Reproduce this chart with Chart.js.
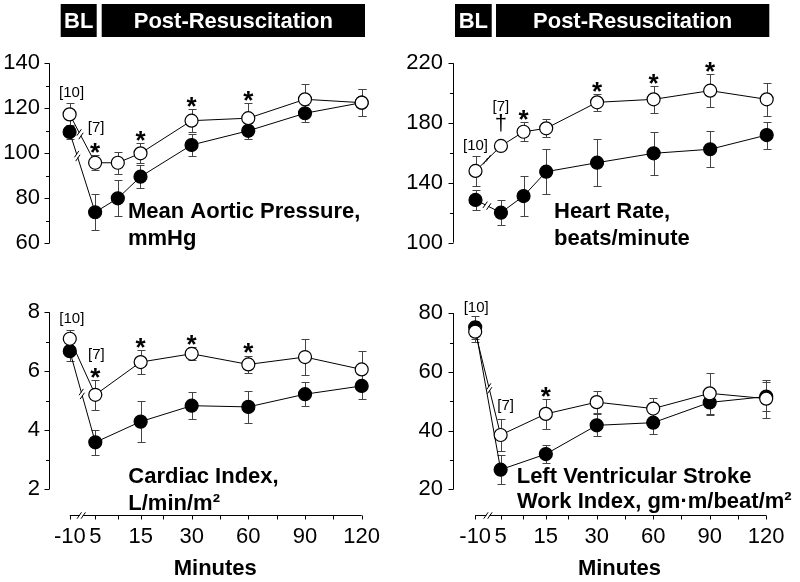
<!DOCTYPE html>
<html>
<head>
<meta charset="utf-8">
<script src="https://cdn.jsdelivr.net/npm/chart.js@4.4.1/dist/chart.umd.min.js"></script>
<style>
  body { margin: 0; background: #fff; width: 800px; height: 582px; overflow: hidden; position: relative; }
  canvas { position: absolute; }
</style>
</head>
<body>
<canvas id="map" width="400" height="290" style="left:0;top:0"></canvas>
<canvas id="hr" width="400" height="290" style="left:400px;top:0"></canvas>
<canvas id="ci" width="400" height="292" style="left:0;top:290px"></canvas>
<canvas id="lv" width="400" height="292" style="left:400px;top:290px"></canvas>
<script>
// ==========================
// DATA
// ==========================
const minutes = [-10, 5, 10, 15, 30, 60, 90, 120];
// where each time point sits on the (broken, stretched) x axis
const axisPos = [0, 0.9, 1.7, 2.5, 4.3, 6.3, 8.3, 10.3];
const xTickPos = [0, 0.9, 1.7, 2.5, 3.3, 4.3, 5.3, 6.3, 7.3, 8.3, 9.3, 10.3];
const xTickLabels = ['-10', '5', '', '15', '', '30', '', '60', '', '90', '', '120'];

// Mean aortic pressure, mmHg
const mapOpen = [117.3, 95.8, 95.8, 100, 114.5, 115.6, 124, 122.5];
const mapOpenErr = [5, 3.3, 5, 4.4, 5, 6.7, 6.7, 6];
const mapFilled = [109.5, 73.8, 80, 89.6, 103.7, 110, 117.8, 122.5];
const mapFilledErr = [3, 8, 8, 5, 5, 3.6, 3.8, 6];

// Heart rate, beats/minute
const hrOpen = [148, 164.7, 174.2, 176.5, 193.9, 195.9, 201.7, 195.9];
const hrOpenErr = [10, 3, 6.5, 6, 5.5, 9, 11, 11];
const hrFilled = [128.6, 120.1, 131.2, 147.5, 153.5, 159.8, 162.5, 172];
const hrFilledErr = [6.7, 8.5, 13.6, 15, 15.7, 14.5, 12, 9];

// Cardiac index, L/min/m2 (no 10 min point)
const ciOpen = [7.1, 5.2, null, 6.31, 6.59, 6.23, 6.48, 6.06];
const ciOpenErr = [0.31, 0.5, null, 0.4, 0.22, 0.3, 0.6, 0.64];
const ciFilled = [6.68, 3.59, null, 4.29, 4.83, 4.79, 5.22, 5.5];
const ciFilledErr = [0.32, 0.42, null, 0.7, 0.45, 0.54, 0.4, 0.45];

// LV stroke work index
const lvOpen = [73.7, 38.5, null, 45.7, 49.7, 47.5, 52.7, 50.9];
const lvOpenErr = [3.5, 5.6, null, 5, 3.8, 3.6, 7, 6.5];
const lvFilled = [75.2, 26.7, null, 32, 41.8, 42.7, 49.6, 51.6];
const lvFilledErr = [4, 5, null, 3.2, 3.8, 3.7, 4.4, 5];

// significance marks (index into minutes)
const mapStars = [1, 3, 4, 5];
const hrStars = [2, 4, 5, 6];
const ciStars = [1, 3, 4, 5];
const lvStars = [3];

// ==========================
// DRAWING HELPERS
// ==========================
const FONT = '"Liberation Sans", Arial, Helvetica, sans-serif';
Chart.defaults.font.family = FONT;
Chart.defaults.color = '#000';

function breakMark(ctx, px, py, dx, dy) {
  const len = Math.hypot(dx, dy);
  const ux = dx / len, uy = dy / len;
  ctx.save();
  ctx.strokeStyle = '#fff';
  ctx.lineWidth = 3;
  ctx.beginPath();
  ctx.moveTo(px - ux * 1.6, py - uy * 1.6);
  ctx.lineTo(px + ux * 1.6, py + uy * 1.6);
  ctx.stroke();
  ctx.strokeStyle = '#000';
  ctx.lineWidth = 1;
  ctx.beginPath();
  [-1, 1].forEach(k => {
    const cx = px + k * 2 * ux, cy = py + k * 2 * uy;
    ctx.moveTo(cx - 2.2, cy + 3.2);
    ctx.lineTo(cx + 2.2, cy - 3.2);
  });
  ctx.stroke();
  ctx.restore();
}

const decoPlugin = {
  id: 'deco',
  beforeDatasetsDraw(chart, args, o) {
    const { ctx, scales: { x, y } } = chart;
    ctx.save();
    ctx.strokeStyle = '#000';
    ctx.lineWidth = 1;

    // y axis line and ticks
    const ax = Math.round(chart.chartArea.left) + 0.5;
    ctx.beginPath();
    ctx.moveTo(ax, y.getPixelForValue(o.yLo));
    ctx.lineTo(ax, y.getPixelForValue(o.yHi));
    for (let v = o.yLo; v <= o.yHi + 1e-9; v += o.minor) {
      const py = Math.round(y.getPixelForValue(v)) + 0.5;
      const major = Math.abs(((v - o.yLo) / o.major) - Math.round((v - o.yLo) / o.major)) < 1e-6;
      ctx.moveTo(ax - (major ? 5 : 3.5), py);
      ctx.lineTo(ax, py);
    }
    ctx.stroke();

    // floating x axis
    if (o.xAxis) {
      const by = Math.round(chart.chartArea.bottom) + 0.5;
      ctx.beginPath();
      ctx.moveTo(x.getPixelForValue(xTickPos[0]), by);
      ctx.lineTo(x.getPixelForValue(xTickPos[xTickPos.length - 1]), by);
      xTickPos.forEach(p => {
        const px = Math.round(x.getPixelForValue(p)) + 0.5;
        ctx.moveTo(px, by);
        ctx.lineTo(px, by + 4);
      });
      ctx.stroke();
      const bx = x.getPixelForValue(axisPos[0] + o.xBreak * (axisPos[1] - axisPos[0]));
      breakMark(ctx, bx, by, 1, 0);
    }

    // error bars
    ctx.strokeStyle = '#444';
    ctx.beginPath();
    chart.data.datasets.forEach(ds => {
      ds.values.forEach((v, i) => {
        const e = ds.err[i];
        if (v == null || !e) return;
        const px = Math.round(x.getPixelForValue(axisPos[i])) + 0.5;
        const t = Math.round(y.getPixelForValue(v + e)) + 0.5;
        const b = Math.round(y.getPixelForValue(v - e)) + 0.5;
        ctx.moveTo(px, t); ctx.lineTo(px, b);
        ctx.moveTo(px - 4, t); ctx.lineTo(px + 4, t);
        ctx.moveTo(px - 4, b); ctx.lineTo(px + 4, b);
      });
    });
    ctx.stroke();
    ctx.restore();
  },
  afterDatasetsDraw(chart, args, o) {
    const { ctx, scales: { x, y } } = chart;
    ctx.save();

    // broken line segments between baseline and 5 min
    o.breaks.forEach(b => {
      const pts = chart.getDatasetMeta(b.ds).data;
      const p0 = pts[0], p1 = pts[1];
      breakMark(ctx, p0.x + b.t * (p1.x - p0.x), p0.y + b.t * (p1.y - p0.y), p1.x - p0.x, p1.y - p0.y);
    });

    // asterisks above the open-circle error bars
    const open = chart.data.datasets[0];
    ctx.fillStyle = '#000';
    ctx.textAlign = 'center';
    ctx.textBaseline = 'alphabetic';
    ctx.font = 'bold 26px ' + FONT;
    o.stars.forEach(i => {
      const cy = y.getPixelForValue(open.values[i] + open.err[i]) - 9;
      ctx.fillText('*', x.getPixelForValue(axisPos[i]), cy + 0.57 * 26);
    });

    // n counts and other notes
    ctx.textBaseline = 'middle';
    o.notes.forEach(n => {
      const ds = chart.data.datasets[n.ds];
      const cy = y.getPixelForValue(ds.values[n.i] + ds.err[n.i]) + n.dy;
      ctx.font = (n.size || 15) + 'px ' + FONT;
      ctx.fillText(n.text, x.getPixelForValue(axisPos[n.i]) + (n.dx || 0), cy);
    });

    // panel title
    ctx.textAlign = 'left';
    ctx.textBaseline = 'alphabetic';
    ctx.font = 'bold 22px ' + FONT;
    o.title.forEach(([txt, tx, ty]) => ctx.fillText(txt, tx, ty));

    // BL / Post-Resuscitation header
    if (o.header) {
      ctx.textAlign = 'center';
      ctx.textBaseline = 'middle';
      [['BL', o.header.bl], ['Post-Resuscitation', o.header.post]].forEach(([txt, [x0, x1]]) => {
        ctx.fillStyle = '#000';
        ctx.fillRect(x0, 4, x1 - x0, 33);
        ctx.fillStyle = '#fff';
        ctx.fillText(txt, (x0 + x1) / 2, 21.5);
      });
    }
    ctx.restore();
  }
};

// ==========================
// BUILD ONE PANEL
// ==========================
function buildPanel(p) {
  const canvas = document.getElementById(p.id);
  const H = canvas.height;
  const chartBottom = p.xAxisY || p.yBottom;
  const span = p.yHi - p.yLo;
  const yMin = p.yLo - (chartBottom - p.yBottom) / (p.yBottom - p.yTop) * span;
  const unit = (p.lastX - p.firstX) / axisPos[axisPos.length - 1];
  const xMin = -(p.firstX - p.axisLeft) / unit;
  const xMax = 11;
  const rightEdge = p.firstX + xMax * unit;

  const series = (vals, err, fill) => ({
    data: vals.map((v, i) => ({ x: axisPos[i], y: v })),
    values: vals,
    err: err,
    borderColor: '#000',
    borderWidth: 1,
    pointRadius: 6.5,
    pointBorderWidth: 1.2,
    pointBorderColor: '#000',
    pointBackgroundColor: fill,
    spanGaps: true,
    tension: 0,
    clip: false
  });

  return new Chart(canvas, {
    type: 'line',
    data: {
      datasets: [
        series(p.open, p.openErr, '#fff'),
        series(p.filled, p.filledErr, '#000')
      ]
    },
    options: {
      responsive: false,
      animation: false,
      devicePixelRatio: 1,
      layout: {
        padding: { left: 0, top: p.yTop, right: canvas.width - rightEdge, bottom: p.xAxisY ? 0 : H - p.yBottom }
      },
      plugins: {
        legend: { display: false },
        tooltip: { enabled: false },
        deco: {
          yLo: p.yLo, yHi: p.yHi, major: p.major, minor: p.minor,
          xAxis: !!p.xAxisY, xBreak: p.xBreak,
          breaks: p.breaks, stars: p.stars, notes: p.notes,
          title: p.title, header: p.header
        }
      },
      scales: {
        x: {
          type: 'linear',
          min: xMin,
          max: xMax,
          display: !!p.xAxisY,
          grid: { display: false, drawTicks: false },
          border: { display: false },
          afterBuildTicks: s => { s.ticks = xTickPos.map(v => ({ value: v })); },
          afterFit: s => { if (p.xAxisY) s.height = H - chartBottom; },
          ticks: {
            autoSkip: false,
            maxRotation: 0,
            padding: 9,
            font: { size: 22 },
            callback: (v, i) => xTickLabels[i]
          },
          title: {
            display: true,
            text: 'Minutes',
            font: { size: 22, weight: 'bold' },
            padding: { top: 0, bottom: 0 }
          }
        },
        y: {
          min: yMin,
          max: p.yHi,
          grid: { display: false, drawTicks: false },
          border: { display: false },
          afterBuildTicks: s => {
            const t = [];
            for (let v = p.yLo; v <= p.yHi + 1e-9; v += p.major) t.push({ value: v });
            s.ticks = t;
          },
          afterFit: s => { s.width = p.axisLeft; },
          ticks: { padding: p.labelPad, font: { size: 22 } }
        }
      }
    },
    plugins: [decoPlugin]
  });
}

buildPanel({
  id: 'map', open: mapOpen, openErr: mapOpenErr, filled: mapFilled, filledErr: mapFilledErr,
  yLo: 60, yHi: 140, major: 20, minor: 10,
  yTop: 63.3, yBottom: 243.3, axisLeft: 49, labelPad: 9, firstX: 69.6, lastX: 361.7,
  stars: mapStars,
  notes: [{ ds: 0, i: 0, text: '[10]', dy: -10, dx: 2 }, { ds: 0, i: 1, text: '[7]', dy: -27, dx: 1 }],
  breaks: [{ ds: 0, t: 0.41 }, { ds: 1, t: 0.3 }],
  title: [['Mean Aortic Pressure,', 128, 218], ['mmHg', 128, 245]],
  header: { bl: [60.7, 96.7], post: [101.7, 365] }
});

buildPanel({
  id: 'hr', open: hrOpen, openErr: hrOpenErr, filled: hrFilled, filledErr: hrFilledErr,
  yLo: 100, yHi: 220, major: 40, minor: 20,
  yTop: 63.3, yBottom: 242.7, axisLeft: 53, labelPad: 10, firstX: 75.5, lastX: 366.7,
  stars: hrStars,
  notes: [
    { ds: 0, i: 0, text: '[10]', dy: -10 },
    { ds: 0, i: 1, text: '†', dy: -18, size: 22 },
    { ds: 0, i: 1, text: '[7]', dy: -35 }
  ],
  breaks: [{ ds: 0, t: 0.45 }, { ds: 1, t: 0.45 }],
  title: [['Heart Rate,', 154, 218], ['beats/minute', 154, 245]],
  header: { bl: [55, 91.7], post: [96, 369.3] }
});

buildPanel({
  id: 'ci', open: ciOpen, openErr: ciOpenErr, filled: ciFilled, filledErr: ciFilledErr,
  yLo: 2, yHi: 8, major: 2, minor: 1,
  yTop: 20.7, yBottom: 199, xAxisY: 225, xBreak: 0.45, axisLeft: 49, labelPad: 9, firstX: 69.8, lastX: 361.7,
  stars: ciStars,
  notes: [{ ds: 0, i: 0, text: '[10]', dy: -11, dx: 2 }, { ds: 0, i: 1, text: '[7]', dy: -25, dx: 1 }],
  breaks: [{ ds: 1, t: 0.47 }],
  title: [['Cardiac Index,', 128.3, 193.3], ['L/min/m²', 128.3, 220]]
});

buildPanel({
  id: 'lv', open: lvOpen, openErr: lvOpenErr, filled: lvFilled, filledErr: lvFilledErr,
  yLo: 20, yHi: 80, major: 20, minor: 10,
  yTop: 20.7, yBottom: 199, xAxisY: 225, xBreak: 0.5, axisLeft: 53, labelPad: 10, firstX: 75.2, lastX: 366.2,
  stars: lvStars,
  notes: [{ ds: 1, i: 0, text: '[10]', dy: -8, dx: 1 }, { ds: 0, i: 1, text: '[7]', dy: -13, dx: 5 }],
  breaks: [{ ds: 0, t: 0.55 }],
  title: [['Left Ventricular Stroke', 116.7, 192.7], ['Work Index, gm·m/beat/m²', 117, 218.3]]
});
</script>
</body>
</html>
